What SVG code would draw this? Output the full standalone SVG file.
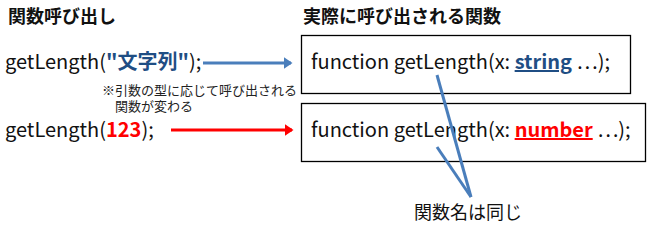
<svg xmlns="http://www.w3.org/2000/svg" width="653" height="227" viewBox="0 0 653 227">
<style>
text{font-family:"Noto Sans CJK JP","Liberation Sans",sans-serif;fill:#111}
.h{font-size:18px;font-weight:bold}
.c{font-size:20px}
.n{font-size:13px;fill:#222}
.box{fill:#fff;stroke:#000;stroke-width:1.3}
.bl{fill:#1f4e84;font-weight:bold}
.rd{fill:#ff0000;font-weight:bold}
</style>
<defs>
<marker id="ab" markerWidth="4" markerHeight="4" refX="2.5" refY="2" orient="auto" markerUnits="strokeWidth"><path d="M0,0L3,2L0,4z" fill="#4a7ebb"/></marker>
<marker id="ar" markerWidth="4" markerHeight="4" refX="2.5" refY="2" orient="auto" markerUnits="strokeWidth"><path d="M0,0L3,2L0,4z" fill="#ff0000"/></marker>
</defs>
<g id="title-left"><text class="h" x="8" y="23">関数呼び出し</text></g>
<g id="title-right"><text class="h" x="303" y="23">実際に呼び出される関数</text></g>
<g id="call1"><text class="c" x="5" y="69">getLength(<tspan class="bl">"文字列"</tspan>);</text></g>
<g id="call2"><text class="c" x="5" y="137">getLength(<tspan class="rd">123</tspan>);</text></g>
<g id="note"><text class="n" x="102" y="95">※引数の型に応じて呼び出される</text><text class="n" x="115" y="111">関数が変わる</text></g>
<g id="func1"><rect class="box" x="301.5" y="35.5" width="329" height="58"/><text class="c" x="311" y="69">function getLength(x: <tspan class="bl" text-decoration="underline">string</tspan> …);</text></g>
<g id="func2"><rect class="box" x="301.5" y="103.5" width="344" height="58"/><text class="c" x="311" y="137">function getLength(x: <tspan class="rd" text-decoration="underline">number</tspan> …);</text></g>
<g id="same"><text style="font-size:18px" x="414" y="219">関数名は同じ</text></g>
<g id="connectors">
<line x1="203" y1="63" x2="291" y2="63" stroke="#4a7ebb" stroke-width="3" marker-end="url(#ab)"/>
<line x1="171" y1="130" x2="292" y2="130" stroke="#ff0000" stroke-width="3" marker-end="url(#ar)"/>
<line x1="437" y1="75" x2="471" y2="197" stroke="#4a7ebb" stroke-width="3"/>
<line x1="437" y1="147" x2="471" y2="197" stroke="#4a7ebb" stroke-width="3"/>
</g>
</svg>
